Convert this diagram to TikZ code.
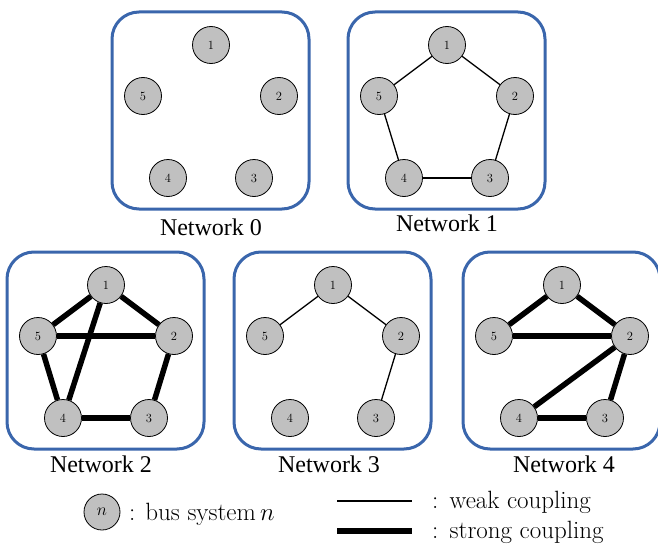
\documentclass[tikz,border=0pt]{standalone}
\usepackage{fontspec}
\newfontfamily\timesf{Liberation Serif}
\definecolor{boxblue}{HTML}{3A66AC}
\definecolor{busgray}{HTML}{C0C0C0}
\tikzset{
  netbox/.style={draw=boxblue, line width=3pt, rounded corners=27pt},
  bus/.style={circle, draw=black, line width=0.8pt, fill=busgray, minimum size=37pt, inner sep=0pt, font=\fontsize{12.5}{14}\selectfont},
  weak/.style={line width=1.3pt},
  strong/.style={line width=5.5pt},
  netlabel/.style={font=\timesf\fontsize{24}{28}\selectfont, anchor=base, inner sep=0pt},
  legtext/.style={font=\fontsize{25}{29}\selectfont, anchor=base west, inner sep=0pt}
}
\newcommand\drawnet[3]{%
  \draw[netbox] (#2,#3) rectangle ++(197,197);
  \node[bus] (#1-1) at (#2+99,#3+33) {1};
  \node[bus] (#1-2) at (#2+167,#3+84) {2};
  \node[bus] (#1-3) at (#2+142,#3+166) {3};
  \node[bus] (#1-4) at (#2+56,#3+166) {4};
  \node[bus] (#1-5) at (#2+31,#3+84) {5};
}
\begin{document}
\begin{tikzpicture}[x=1pt,y=-1pt]
\useasboundingbox (0,0) rectangle (658,543);

\drawnet{a}{112}{12}
\drawnet{b}{348}{12}
\drawnet{c}{7}{252}
\drawnet{d}{234}{252}
\drawnet{e}{463}{252}

% Network 1
\draw[weak] (b-1) -- (b-2);
\draw[weak] (b-2) -- (b-3);
\draw[weak] (b-3) -- (b-4);
\draw[weak] (b-4) -- (b-5);
\draw[weak] (b-5) -- (b-1);

% Network 2
\draw[strong] (c-1) -- (c-5);
\draw[strong] (c-1) -- (c-2);
\draw[strong] (c-5) -- (c-2);
\draw[strong] (c-1) -- (c-4);
\draw[strong] (c-5) -- (c-4);
\draw[strong] (c-2) -- (c-3);
\draw[strong] (c-4) -- (c-3);

% Network 3
\draw[weak] (d-1) -- (d-5);
\draw[weak] (d-1) -- (d-2);
\draw[weak] (d-2) -- (d-3);

% Network 4
\draw[strong] (e-1) -- (e-5);
\draw[strong] (e-1) -- (e-2);
\draw[strong] (e-5) -- (e-2);
\draw[strong] (e-2) -- (e-4);
\draw[strong] (e-2) -- (e-3);
\draw[strong] (e-4) -- (e-3);

% labels
\node[netlabel] (la) at (211,235) {Network 0};
\node[netlabel] (lb) at (447,231.5) {Network 1};
\node[netlabel] (lc) at (101,472.5) {Network 2};
\node[netlabel] (ld) at (329,472.5) {Network 3};
\node[netlabel] (le) at (564,472.5) {Network 4};

% legend
\node[bus, minimum size=36pt, font=\fontsize{17}{19}\selectfont] (leg) at (102,512) {$n$};
\node[legtext] (legbus) at (129,520) {:\hspace{0.4em}bus system\,$n$};
\coordinate (w1) at (337,501);
\coordinate (w2) at (412,501);
\coordinate (s1) at (337,531);
\coordinate (s2) at (412,531);
\draw[weak] (w1) -- (w2);
\draw[strong] (s1) -- (s2);
\node[legtext] (legweak) at (432,508) {:\hspace{0.45em}weak coupling};
\node[legtext] (legstrong) at (432,538) {:\hspace{0.45em}strong coupling};
\end{tikzpicture}
\end{document}
